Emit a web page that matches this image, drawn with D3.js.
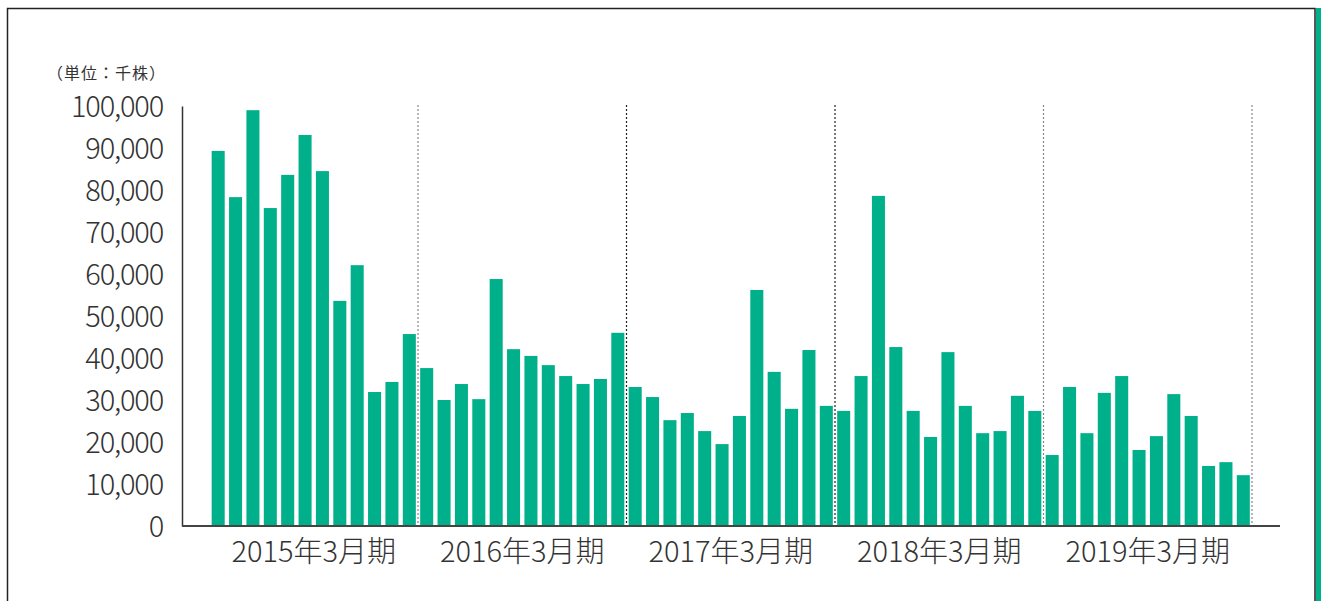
<!DOCTYPE html>
<html>
<head>
<meta charset="utf-8">
<script src="https://cdn.jsdelivr.net/npm/d3@7"></script>
<style>
  body { margin: 0; background: #fff; }
  svg text { font-family: "Noto Sans CJK JP", "Noto Sans", sans-serif; fill: #333; }
</style>
</head>
<body>
<svg class="chart"></svg>
<script>
// monthly volume, thousand shares (Apr..Mar of each fiscal year)
var years = ['2015年3月期', '2016年3月期', '2017年3月期', '2018年3月期', '2019年3月期'];
var fy2015 = [89300, 78300, 99000, 75700, 83600, 93100, 84500, 53600, 62100, 31900, 34300, 45700];
var fy2016 = [37600, 30000, 33800, 30200, 58800, 42100, 40500, 38300, 35700, 33800, 35000, 46000];
var fy2017 = [33100, 30700, 25200, 26900, 22600, 19500, 26200, 56200, 36700, 27900, 41900, 28600];
var fy2018 = [27400, 35700, 78600, 42600, 27400, 21200, 41400, 28600, 22100, 22600, 31000, 27400];
var fy2019 = [16900, 33100, 22100, 31700, 35700, 18100, 21400, 31400, 26200, 14300, 15200, 12100];
var yTicks = [0, 10000, 20000, 30000, 40000, 50000, 60000, 70000, 80000, 90000, 100000];
var unitLabel = '（単位：千株）';

var values = [].concat(fy2015, fy2016, fy2017, fy2018, fy2019);
var green = '#00b08b';

var svg = d3.select('.chart')
            .attr('width', 1321)
            .attr('height', 601);

// frame
svg.append('rect')
   .attr('x', 7.5).attr('y', 8.5)
   .attr('width', 1307.5).attr('height', 620)
   .attr('fill', 'none')
   .attr('stroke', '#222')
   .attr('stroke-width', 1.5);
svg.append('rect')
   .attr('x', 1316).attr('y', 8)
   .attr('width', 6).attr('height', 600)
   .attr('fill', green);

var xScale = d3.scaleBand()
               .domain(d3.range(values.length))
               .range([209.5, 1252])
               .paddingInner(0.25)
               .paddingOuter(0.125);

var yearScale = d3.scaleBand()
                  .domain(years)
                  .range([209.5, 1252]);

var yScale = d3.scaleLinear()
               .domain([0, 100000])
               .range([526, 106]);

// year dividers
svg.selectAll('.divider').data(years)
   .enter()
   .append('line')
   .attr('class', 'divider')
   .attr('x1', d => yearScale(d) + yearScale.bandwidth())
   .attr('x2', d => yearScale(d) + yearScale.bandwidth())
   .attr('y1', yScale(100000) - 1)
   .attr('y2', yScale(0))
   .attr('stroke', (d, i) => (i == 1 || i == 2) ? '#222' : '#888')
   .attr('stroke-width', 1.2)
   .attr('stroke-dasharray', '2,2');

svg.selectAll('.bar').data(values)
   .enter()
   .append('rect')
   .attr('class', 'bar')
   .attr('x', (d, i) => xScale(i))
   .attr('y', d => yScale(d))
   .attr('width', xScale.bandwidth())
   .attr('height', d => yScale(0) - yScale(d))
   .attr('fill', green);

// y axis
var yAxis = d3.axisLeft(yScale)
              .tickValues(yTicks)
              .tickSize(0)
              .tickPadding(19)
              .tickFormat(d3.format(','));

var gy = svg.append('g')
            .attr('transform', 'translate(182,0)')
            .call(yAxis);
gy.select('.domain').attr('stroke', '#333').attr('stroke-width', 1.5);
gy.selectAll('text')
  .style('font-size', '29px')
  .style('font-weight', 300)
  .style('letter-spacing', '-1.2px')
  .attr('dy', '0.35em')
  .attr('fill', '#333');

// baseline
svg.append('line')
   .attr('x1', 182).attr('x2', 1280)
   .attr('y1', yScale(0)).attr('y2', yScale(0))
   .attr('stroke', '#444')
   .attr('stroke-width', 2);

// x labels
svg.selectAll('.year-label').data(years)
   .enter()
   .append('text')
   .attr('class', 'year-label')
   .attr('x', d => yearScale(d) + yearScale.bandwidth() / 2)
   .attr('y', 552)
   .attr('dy', '0.35em')
   .attr('text-anchor', 'middle')
   .style('font-size', '29px')
   .style('font-weight', 300)
   .text(d => d);

svg.append('text')
   .attr('x', 166)
   .attr('y', 73)
   .attr('dy', '0.35em')
   .attr('text-anchor', 'end')
   .style('font-size', '16px')
   .style('letter-spacing', '1px')
   .text(unitLabel);
</script>
</body>
</html>
